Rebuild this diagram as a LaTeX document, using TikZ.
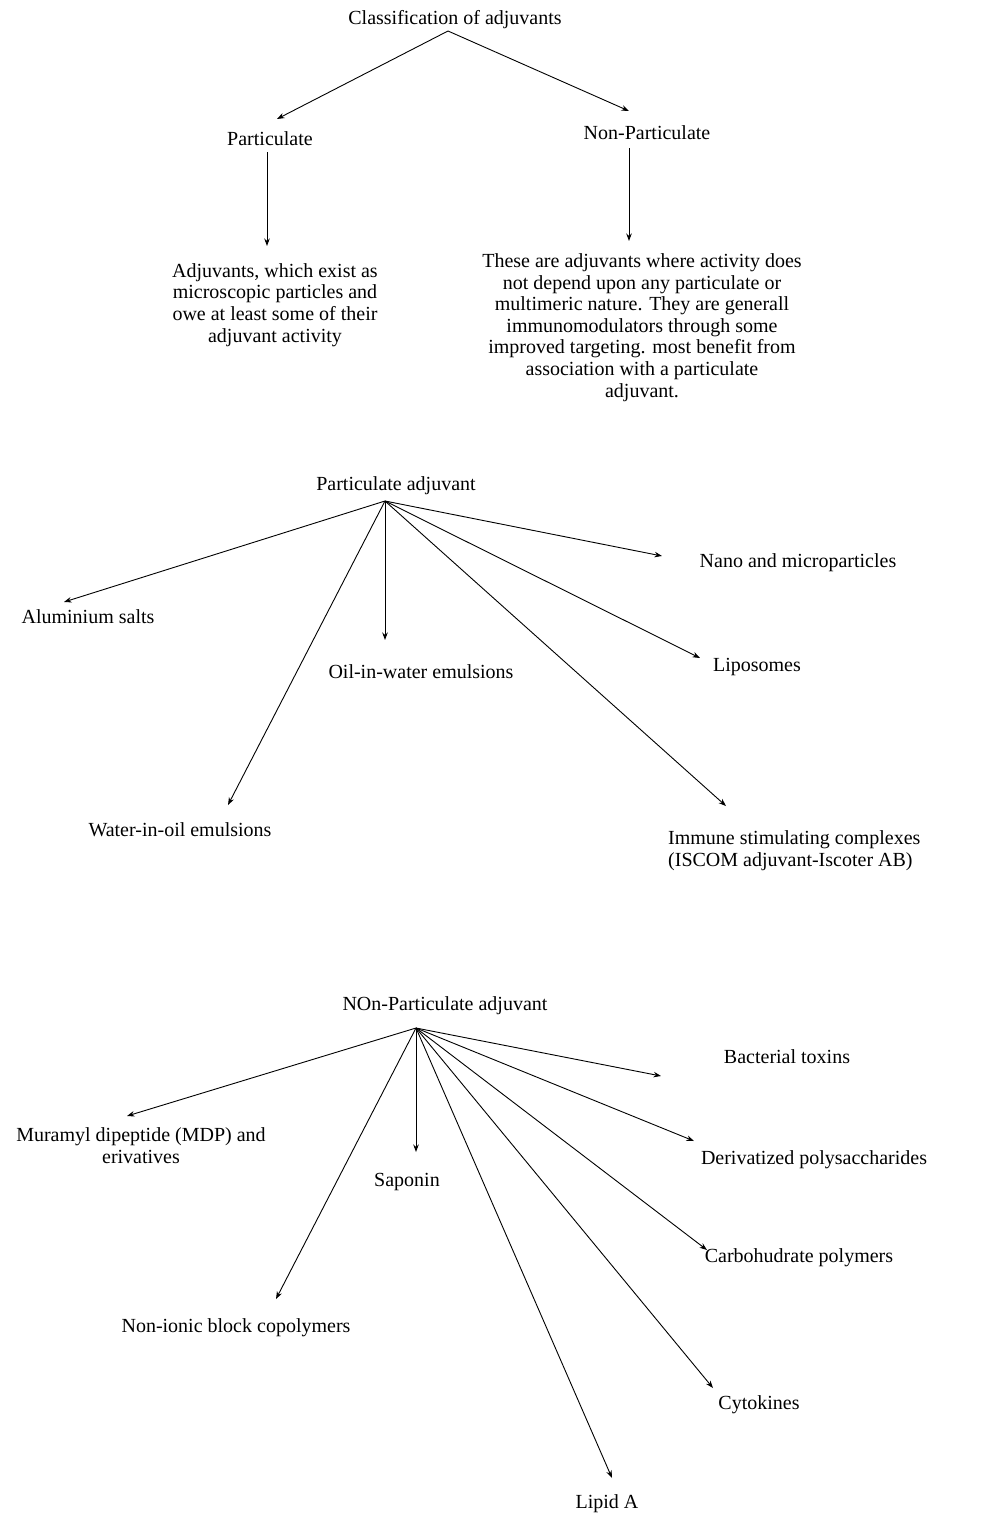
\documentclass[tikz,border=0pt]{standalone}
\usepackage{fontspec}
\setmainfont{Liberation Serif}
\usetikzlibrary{arrows.meta}
\begin{document}
\begin{tikzpicture}[x=1pt,y=-1pt,
  lbl/.style={inner sep=0pt, font=\fontsize{20}{21.6}\selectfont, align=center, yshift=-1.5pt},
  arr/.style={line width=0.9pt, -{Stealth[length=7.5pt,width=5.5pt]}}]
\useasboundingbox[fill=white] (0,0) rectangle (1000,1529);
% ---------- top tree ----------
\node[lbl] (cls) at (455,18) {Classification of adjuvants};
\coordinate (clsh) at (448,31);
\node[lbl] (part) at (270,137) {Particulate};
\node[lbl] (npart) at (647,131) {Non-Particulate};
\coordinate (tPart) at (277,119);
\coordinate (tNpart) at (629,111);
\draw[arr] (clsh) -- (tPart);
\draw[arr] (clsh) -- (tNpart);
\node[lbl] (pdesc) at (275,303.5) {Adjuvants, which exist as\\microscopic particles and\\owe at least some of their\\adjuvant activity};
\node[lbl] (ndesc) at (642,326) {These are adjuvants where activity does\\not depend upon any particulate or\\multimeric nature. They are generall\\immunomodulators through some\\improved targeting. most benefit from\\association with a particulate\\adjuvant.};
\coordinate (sPart) at (267,152);
\coordinate (ePart) at (267,246);
\coordinate (sNpart) at (629,148);
\coordinate (eNpart) at (629,241);
\draw[arr] (sPart) -- (ePart);
\draw[arr] (sNpart) -- (eNpart);
% ---------- particulate adjuvant ----------
\node[lbl] (pa) at (396,484) {Particulate adjuvant};
\coordinate (hubA) at (385,501);
\node[lbl] (alum) at (88,615) {Aluminium salts};
\node[lbl] (oiw) at (421,670) {Oil-in-water emulsions};
\node[lbl] (wio) at (180,828) {Water-in-oil emulsions};
\node[lbl] (nano) at (798,561) {Nano and microparticles};
\node[lbl] (lipo) at (757,665) {Liposomes};
\node[lbl, align=left, anchor=west] (iscom) at (668,849) {Immune stimulating complexes\\(ISCOM adjuvant-Iscoter AB)};
\coordinate (tAlum) at (64,602);
\coordinate (tOiw) at (385,640);
\coordinate (tWio) at (228,805);
\coordinate (tNano) at (662,556);
\coordinate (tLipo) at (700,658);
\coordinate (tIscom) at (726,806);
\foreach \t in {tAlum,tOiw,tWio,tNano,tLipo,tIscom}
  \draw[arr] (hubA) -- (\t);
% ---------- non-particulate adjuvant ----------
\node[lbl] (npa) at (445,1004) {NOn-Particulate adjuvant};
\coordinate (hubB) at (416,1028);
\node[lbl] (mdp) at (141,1144) {Muramyl dipeptide (MDP) and\\erivatives};
\node[lbl] (sap) at (407,1180) {Saponin};
\node[lbl] (nib) at (236,1326) {Non-ionic block copolymers};
\node[lbl] (lipa) at (607,1502) {Lipid A};
\node[lbl] (bact) at (787,1055) {Bacterial toxins};
\node[lbl] (deriv) at (814,1158) {Derivatized polysaccharides};
\node[lbl] (carb) at (799,1256) {Carbohudrate polymers};
\node[lbl] (cyto) at (759,1403) {Cytokines};
\coordinate (tMdp) at (127,1116);
\coordinate (tSap) at (416,1152);
\coordinate (tNib) at (276,1299);
\coordinate (tLipa) at (612,1478);
\coordinate (tBact) at (661,1076);
\coordinate (tDeriv) at (694,1141);
\coordinate (tCarb) at (707,1250);
\coordinate (tCyto) at (713,1388);
\foreach \t in {tMdp,tSap,tNib,tLipa,tBact,tDeriv,tCarb,tCyto}
  \draw[arr] (hubB) -- (\t);
\end{tikzpicture}
\end{document}
